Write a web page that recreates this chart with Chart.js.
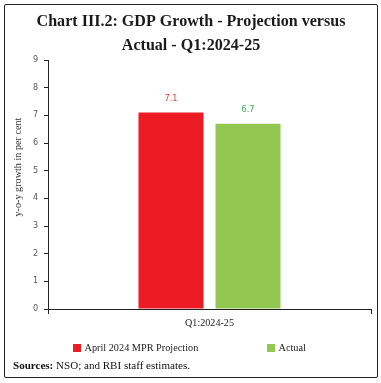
<!DOCTYPE html>
<html><head><meta charset="utf-8">
<script src="https://cdn.jsdelivr.net/npm/chart.js@4.4.1/dist/chart.umd.min.js"></script>
<style>
html,body{margin:0;padding:0;background:#fff;overflow:hidden;}
#wrap{position:relative;width:381px;height:383px;}
#frame{position:absolute;left:4px;top:4px;width:374px;height:374px;border:1px solid #222;border-radius:2px;box-sizing:border-box;pointer-events:none;}
canvas{position:absolute;left:0;top:0;}
</style></head><body>
<div id="wrap"><canvas id="c" width="381" height="383"></canvas><div id="frame"></div></div>
<script>
// ---- data ----
const titleLines = ['Chart III.2: GDP Growth - Projection versus', 'Actual - Q1:2024-25'];
const categories = ['Q1:2024-25'];
const seriesNames = ['April 2024 MPR Projection', 'Actual'];
const projection = [7.1];
const actual = [6.7];
const yTicks = [0, 1, 2, 3, 4, 5, 6, 7, 8, 9];
const yTitle = 'y-o-y growth in per cent';
const sourceLabel = 'Sources:';
const sourceText = ' NSO; and RBI staff estimates.';

// ---- styles ----
const barColors = ['#ED1C24', '#92C851'];
const labelColors = ['#EE3A41', '#3BA85C'];
const SERIF = '"Liberation Serif", "DejaVu Serif", serif';
const SANS = '"DejaVu Sans", sans-serif';

const mctx = document.createElement('canvas').getContext('2d');
function fitSize(text, weight, family, target) {
  mctx.font = weight + ' 100px ' + family;
  return 100 * target / mctx.measureText(text).width;
}
const titleSize = fitSize(titleLines[0], 'bold', SERIF, 309);
const yTitleSize = fitSize(yTitle, 'normal', SERIF, 99);
const xTickSize = fitSize(categories[0], 'normal', SERIF, 49);
const legendSize = fitSize(seriesNames[0], 'normal', SERIF, 114);
const valueSize = fitSize('7.1', 'normal', SANS, 13);
mctx.font = 'bold 100px ' + SERIF;
const w1 = mctx.measureText(sourceLabel).width;
mctx.font = 'normal 100px ' + SERIF;
const w2 = mctx.measureText(sourceText).width;
const sourceSize = 100 * 177 / (w1 + w2);

const decorations = {
  id: 'decorations',
  afterDraw(chart) {
    const ctx = chart.ctx;
    const area = chart.chartArea;
    ctx.save();
    // title
    ctx.fillStyle = '#1a1a1a';
    ctx.textAlign = 'center';
    ctx.textBaseline = 'alphabetic';
    ctx.font = 'bold ' + titleSize + 'px ' + SERIF;
    ctx.fillText(titleLines[0], 191, 26);
    ctx.fillText(titleLines[1], 191, 50);
    // y title
    ctx.save();
    ctx.translate(18, area.top + (area.bottom - area.top) * 0.43);
    ctx.rotate(-Math.PI / 2);
    ctx.font = 'normal ' + yTitleSize + 'px ' + SERIF;
    ctx.fillStyle = '#333';
    ctx.textBaseline = 'middle';
    ctx.fillText(yTitle, 0, 0);
    ctx.restore();
    // value labels
    ctx.font = 'normal ' + valueSize + 'px ' + SANS;
    ctx.textBaseline = 'middle';
    chart.data.datasets.forEach((ds, i) => {
      const meta = chart.getDatasetMeta(i);
      meta.data.forEach((bar, j) => {
        ctx.fillStyle = labelColors[i];
        ctx.fillText(ds.data[j].toFixed(1), bar.x, bar.y - 14);
      });
    });
    // legend
    const legendPos = [73, 267];
    ctx.font = 'normal ' + legendSize + 'px ' + SERIF;
    ctx.textAlign = 'left';
    ctx.textBaseline = 'alphabetic';
    chart.data.datasets.forEach((ds, i) => {
      ctx.fillStyle = ds.backgroundColor;
      ctx.fillRect(legendPos[i], 344, 8, 8);
      ctx.fillStyle = '#222';
      ctx.fillText(ds.label, legendPos[i] + 11.5, 351);
    });
    // sources
    ctx.fillStyle = '#111';
    ctx.font = 'bold ' + sourceSize + 'px ' + SERIF;
    ctx.fillText(sourceLabel, 13, 369);
    const sw = ctx.measureText(sourceLabel).width;
    ctx.font = 'normal ' + sourceSize + 'px ' + SERIF;
    ctx.fillText(sourceText, 13 + sw, 369);
    ctx.restore();
  }
};

new Chart(document.getElementById('c'), {
  type: 'bar',
  data: {
    labels: categories,
    datasets: [
      { label: seriesNames[0], data: projection, backgroundColor: barColors[0], categoryPercentage: 0.477, barPercentage: 0.844 },
      { label: seriesNames[1], data: actual, backgroundColor: barColors[1], categoryPercentage: 0.477, barPercentage: 0.844 }
    ]
  },
  options: {
    responsive: false,
    animation: false,
    devicePixelRatio: 1,
    layout: { padding: { left: 0, right: 10, top: 60, bottom: 44 } },
    plugins: { legend: { display: false }, title: { display: false }, tooltip: { enabled: false } },
    scales: {
      x: {
        grid: { drawOnChartArea: false, offset: true, tickLength: 5, color: '#222' },
        border: { color: '#222', width: 1 },
        ticks: { font: { family: SERIF, size: xTickSize }, color: '#222', padding: 3 },
        afterFit(s) { s.height = 30; }
      },
      y: {
        min: 0, max: 9,
        afterBuildTicks(s) { s.ticks = yTicks.map(v => ({ value: v })); },
        ticks: { font: { family: SANS, size: 8 }, color: '#555', padding: 6 },
        grid: { drawOnChartArea: false, tickLength: 4, color: '#222' },
        border: { color: '#222', width: 1 },
        afterFit(s) { s.width = 48; }
      }
    }
  },
  plugins: [decorations]
});
</script>
</body></html>
